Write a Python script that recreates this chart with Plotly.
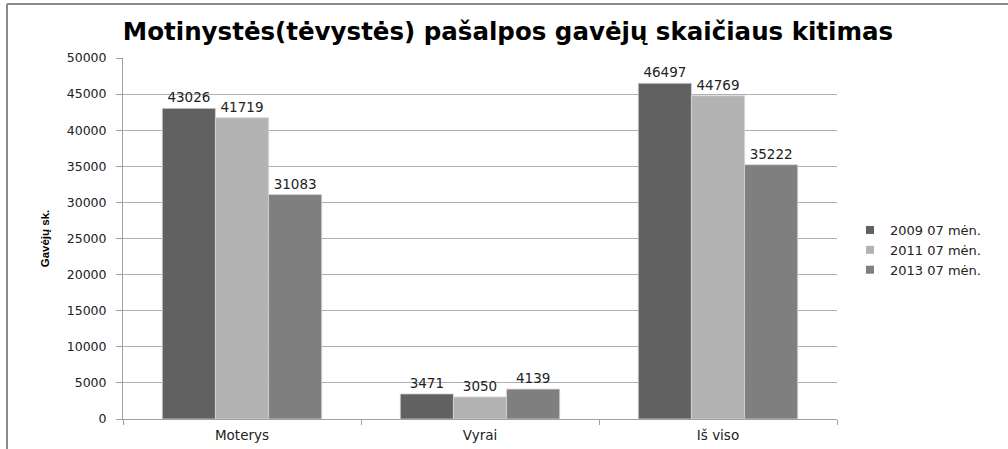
import plotly.graph_objects as go

categories = ["Moterys", "Vyrai", "Iš viso"]
series_names = ["2009 07 mėn.", "2011 07 mėn.", "2013 07 mėn."]
values_2009 = [43026, 3471, 46497]
values_2011 = [41719, 3050, 44769]
values_2013 = [31083, 4139, 35222]
y_ticks = [0, 5000, 10000, 15000, 20000, 25000, 30000, 35000, 40000, 45000, 50000]

colors = ["#616161", "#b3b3b3", "#7f7f7f"]
series_values = [values_2009, values_2011, values_2013]

W, H = 1008, 449
L, R, T, B = 123, 171, 58, 30
pw = W - L - R
ph = H - T - B

fig = go.Figure()
for name, vals, col in zip(series_names, series_values, colors):
    fig.add_trace(go.Bar(
        x=categories, y=vals, name=name, showlegend=False,
        marker=dict(color=col, line=dict(color="#d4d4d4", width=0.8)),
        text=[str(v) for v in vals], textposition="outside",
        textfont=dict(family="DejaVu Sans", size=13.5, color="#222222"),
        cliponaxis=False, hoverinfo="skip",
    ))
# legend entries with small square swatches
for name, col in zip(series_names, colors):
    fig.add_trace(go.Scatter(
        x=[None], y=[None], mode="markers", name=name,
        marker=dict(symbol="square", size=8, color=col),
    ))

bx = (7 - L) / pw
by = 1 + (T - 4) / ph

fig.update_layout(
    width=W, height=H,
    margin=dict(l=L, r=R, t=T, b=B, autoexpand=False),
    paper_bgcolor="white", plot_bgcolor="white",
    barmode="group", bargap=0.33, bargroupgap=0,
    title=dict(text="<b>Motinystės(tėvystės) pašalpos gavėjų skaičiaus kitimas</b>",
               x=(508 - L) / pw, xref="paper", xanchor="center",
               y=1 - 31 / H, yanchor="middle",
               font=dict(family="DejaVu Sans", size=24.5, color="#000000")),
    font=dict(family="DejaVu Sans", size=12, color="#222222"),
    showlegend=True,
    legend=dict(x=(850 - L) / pw, y=1 - (215 - T) / ph, xanchor="left", yanchor="top",
                font=dict(family="DejaVu Sans", size=13, color="#222222"),
                itemwidth=30, bgcolor="rgba(0,0,0,0)"),
    xaxis=dict(type="category", tickson="boundaries", ticks="outside", ticklen=5,
               tickcolor="#a0a0a0", showline=True, linecolor="#a0a0a0", linewidth=1,
               showgrid=False, ticklabelstandoff=4,
               tickfont=dict(family="DejaVu Sans", size=13.5, color="#222222")),
    yaxis=dict(range=[0, 50000], tickvals=y_ticks, ticktext=[str(v) for v in y_ticks],
               ticks="outside", ticklen=6, tickcolor="#a0a0a0", ticklabelstandoff=7,
               showline=True, linecolor="#a0a0a0", linewidth=1,
               showgrid=True, gridcolor="#b0b0b0", gridwidth=1, zeroline=False,
               tickfont=dict(family="DejaVu Sans", size=12.5, color="#222222"),
               title=dict(text="<b>Gavėjų sk.</b>", standoff=14,
                          font=dict(family="Liberation Sans", size=11.5, color="#000000"))),
    shapes=[
        dict(type="line", xref="paper", yref="paper", x0=bx, x1=1 + R / pw + 0.01, y0=by, y1=by,
             line=dict(color="#8a8a8a", width=2)),
        dict(type="line", xref="paper", yref="paper", x0=bx, x1=bx, y0=by, y1=-B / ph - 0.01,
             line=dict(color="#8a8a8a", width=2)),
    ],
)

fig.write_html("out.html", config={"displayModeBar": False},
               post_script="document.body.style.margin='0';")
